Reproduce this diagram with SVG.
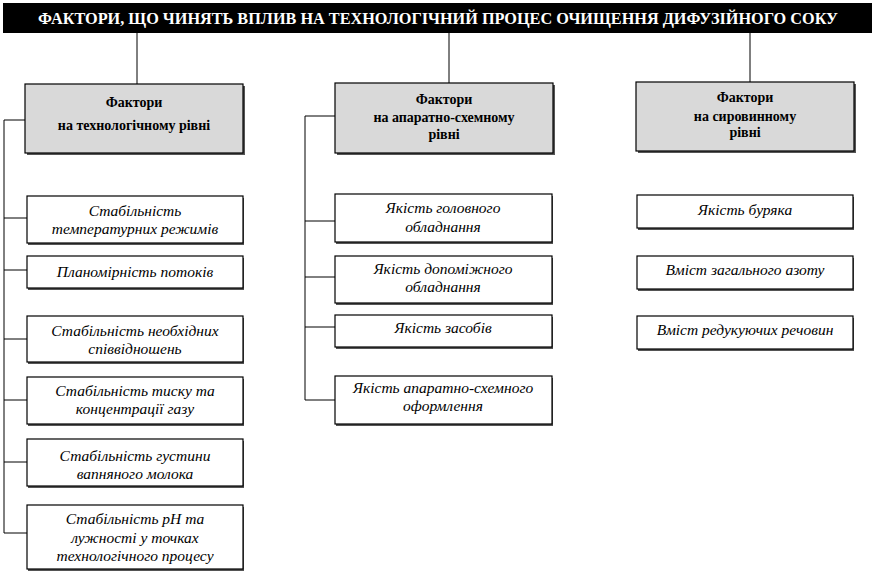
<svg xmlns="http://www.w3.org/2000/svg" width="876" height="571" viewBox="0 0 876 571">
<style>
.bg{fill:#fff}
.title{fill:#000}
.titletxt{font-family:"Liberation Serif","Times New Roman",serif;font-weight:bold;font-size:16.5px;fill:#fff;text-anchor:middle}
.hdr{fill:#d9d9d9;stroke:#000;stroke-width:1.2}
.shd{fill:#555}
.box{fill:#fff;stroke:#000;stroke-width:1.2}
.htxt{font-family:"Liberation Serif","Times New Roman",serif;font-weight:bold;font-size:14px;fill:#000;text-anchor:middle}
.btxt{font-family:"Liberation Serif","Times New Roman",serif;font-style:italic;font-size:15.5px;fill:#000;text-anchor:middle}
.con{fill:none;stroke:#000;stroke-width:1}
</style>
<rect class="bg" x="0" y="0" width="876" height="571"/>
<g id="title">
<rect class="title" x="3" y="3" width="869" height="30"/>
<text class="titletxt" x="438" y="24" textLength="800" lengthAdjust="spacingAndGlyphs">ФАКТОРИ, ЩО ЧИНЯТЬ ВПЛИВ НА ТЕХНОЛОГІЧНИЙ ПРОЦЕС ОЧИЩЕННЯ ДИФУЗІЙНОГО СОКУ</text>
</g>
<g id="connectors">
<path class="con" d="M137 33V84M449 33V83M750 33V82"/>
<path class="con" d="M25 120H4V533M4 218H27M4 270H27M4 339H27M4 400H27M4 462H27M4 533H27"/>
<path class="con" d="M335 116H305V400M305 221H335M305 277H335M305 327H335M305 400H335"/>
</g>
<g id="h1">
<rect class="shd" x="27" y="86" width="218" height="69"/>
<rect class="hdr" x="25" y="84" width="218" height="69"/>
<text class="htxt" x="134" y="107">Фактори</text>
<text class="htxt" x="134" y="130">на технологічному рівні</text>
</g>
<g id="h2">
<rect class="shd" x="337" y="85" width="218" height="70"/>
<rect class="hdr" x="335" y="83" width="218" height="70"/>
<text class="htxt" x="444" y="104">Фактори</text>
<text class="htxt" x="444" y="122">на апаратно-схемному</text>
<text class="htxt" x="444" y="139">рівні</text>
</g>
<g id="h3">
<rect class="shd" x="638" y="84" width="218" height="69"/>
<rect class="hdr" x="636" y="82" width="218" height="69"/>
<text class="htxt" x="745" y="102">Фактори</text>
<text class="htxt" x="745" y="121">на сировинному</text>
<text class="htxt" x="745" y="137">рівні</text>
</g>
<g id="l1">
<rect class="shd" x="28" y="198" width="216" height="47"/>
<rect class="box" x="27" y="196" width="216" height="47"/>
<text class="btxt" x="135" y="216">Стабільність</text>
<text class="btxt" x="135" y="234">температурних режимів</text>
</g>
<g id="l2">
<rect class="shd" x="28" y="258" width="216" height="32"/>
<rect class="box" x="27" y="256" width="216" height="32"/>
<text class="btxt" x="135" y="277">Планомірність потоків</text>
</g>
<g id="l3">
<rect class="shd" x="28" y="318" width="216" height="46"/>
<rect class="box" x="27" y="316" width="216" height="46"/>
<text class="btxt" x="135" y="336">Стабільність необхідних</text>
<text class="btxt" x="135" y="354">співвідношень</text>
</g>
<g id="l4">
<rect class="shd" x="28" y="379" width="216" height="47"/>
<rect class="box" x="27" y="377" width="216" height="47"/>
<text class="btxt" x="135" y="396">Стабільність тиску та</text>
<text class="btxt" x="135" y="414">концентрації газу</text>
</g>
<g id="l5">
<rect class="shd" x="28" y="441" width="216" height="47"/>
<rect class="box" x="27" y="439" width="216" height="47"/>
<text class="btxt" x="135" y="461">Стабільність густини</text>
<text class="btxt" x="135" y="479">вапняного молока</text>
</g>
<g id="l6">
<rect class="shd" x="28" y="507" width="216" height="64"/>
<rect class="box" x="27" y="505" width="216" height="64"/>
<text class="btxt" x="135" y="524">Стабільність pH та</text>
<text class="btxt" x="135" y="543">лужності у точках</text>
<text class="btxt" x="135" y="561">технологічного процесу</text>
</g>
<g id="m1">
<rect class="shd" x="336" y="196" width="217" height="48"/>
<rect class="box" x="335" y="194" width="217" height="48"/>
<text class="btxt" x="443" y="213">Якість головного</text>
<text class="btxt" x="443" y="232">обладнання</text>
</g>
<g id="m2">
<rect class="shd" x="336" y="258" width="217" height="47"/>
<rect class="box" x="335" y="256" width="217" height="47"/>
<text class="btxt" x="443" y="274">Якість допоміжного</text>
<text class="btxt" x="443" y="292">обладнання</text>
</g>
<g id="m3">
<rect class="shd" x="336" y="317" width="217" height="32"/>
<rect class="box" x="335" y="315" width="217" height="32"/>
<text class="btxt" x="443" y="333">Якість засобів</text>
</g>
<g id="m4">
<rect class="shd" x="336" y="378" width="217" height="48"/>
<rect class="box" x="335" y="376" width="217" height="48"/>
<text class="btxt" x="443" y="393">Якість апаратно-схемного</text>
<text class="btxt" x="443" y="411">оформлення</text>
</g>
<g id="r1">
<rect class="shd" x="638" y="197" width="216" height="33"/>
<rect class="box" x="637" y="195" width="216" height="33"/>
<text class="btxt" x="745" y="215">Якість буряка</text>
</g>
<g id="r2">
<rect class="shd" x="638" y="258" width="216" height="33"/>
<rect class="box" x="637" y="256" width="216" height="33"/>
<text class="btxt" x="745" y="275">Вміст загального азоту</text>
</g>
<g id="r3">
<rect class="shd" x="638" y="318" width="216" height="33"/>
<rect class="box" x="637" y="316" width="216" height="33"/>
<text class="btxt" x="745" y="335">Вміст редукуючих речовин</text>
</g>
</svg>
